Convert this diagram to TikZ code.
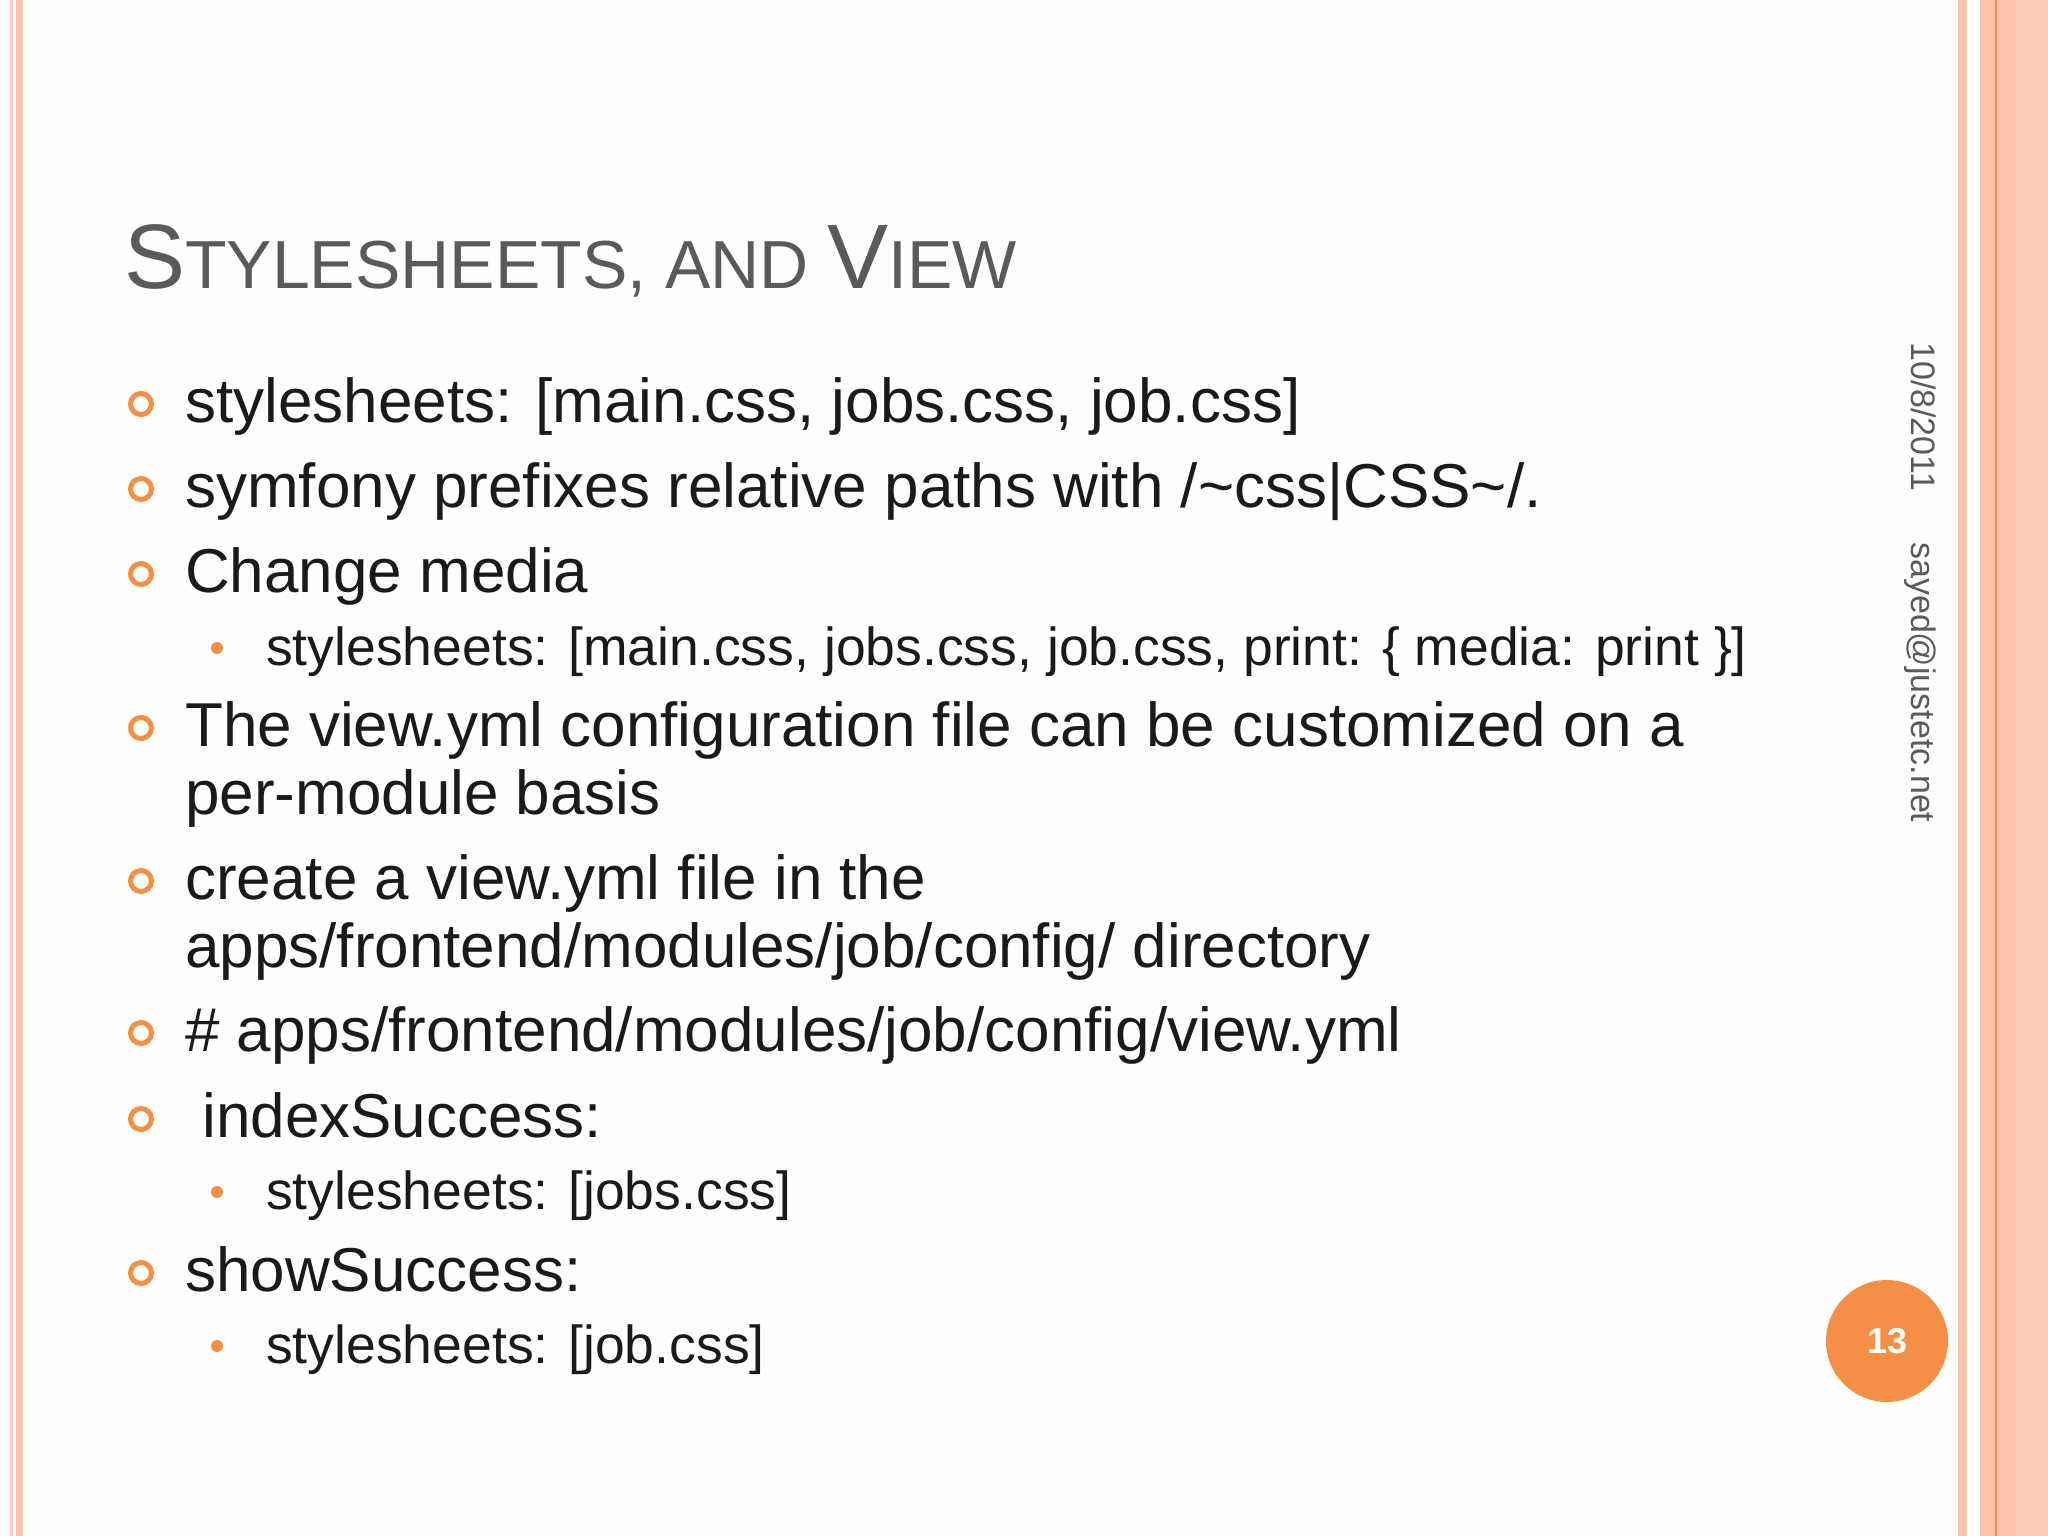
\documentclass[tikz,border=0pt]{standalone}
\usepackage{fontspec}
\setmainfont{Liberation Sans}
\definecolor{org}{HTML}{F58F45}
\definecolor{pk}{HTML}{FFC2AD}
\definecolor{pk2}{HTML}{FBCBB4}
\definecolor{txt}{HTML}{1A1A1A}
\definecolor{ttl}{HTML}{5A5A5A}
\begin{document}
\begin{tikzpicture}[x=1pt,y=-1pt,
  body/.style={anchor=base west,inner sep=0,text=txt,font=\fontsize{62}{68}\selectfont,align=left},
  sub/.style={anchor=base west,inner sep=0,text=txt,font=\fontsize{53.5}{60}\selectfont},
  ring/.style={draw=org,line width=5pt,circle,minimum size=21pt,inner sep=0},
  dot/.style={fill=org,circle,minimum size=12pt,inner sep=0}]
\useasboundingbox (0,0) rectangle (2048,1536);
\fill[white!97!green!40!white] (0,0) rectangle (2048,1536);
\fill[pk!80] (10,0) rectangle (13,1536);
\fill[pk] (16,0) rectangle (23,1536);
\fill[pk] (1958,0) rectangle (1967,1536);
\fill[white] (1967,0) rectangle (1980,1536);
\fill[pk] (1980,0) rectangle (2016,1536);
\fill[pk2] (2016,0) rectangle (2048,1536);
\draw[org,line width=2pt] (1996,0) -- (1996,1536);
\node[anchor=base west,inner sep=0,text=ttl] (title) at (124,288)
 {\fontsize{91.5}{90}\selectfont S\fontsize{68}{68}\selectfont TYLESHEETS, AND \fontsize{91.5}{90}\selectfont V\fontsize{68}{68}\selectfont IEW};
\foreach \n/\y in {1/422,2/507,3/592,4/746,5/899,6/1051,7/1137,8/1291}
  \node[ring] (r\n) at (141,\y-18) {};
\foreach \n/\y in {1/665,2/1209,3/1363}
  \node[dot] (d\n) at (217,\y-17) {};
\node[body] (b1) at (185,422) {stylesheets: [main.css, jobs.css, job.css]};
\node[body] (b2) at (185,507) {symfony prefixes relative paths with /\textasciitilde css|CSS\textasciitilde/.};
\node[body] (b3) at (185,592) {Change media};
\node[sub] (s1) at (266,665) {stylesheets: [main.css, jobs.css, job.css, print: \{ media: print \}]};
\node[body] (b4) at (185,746) {The view.yml configuration file can be customized on a};
\node[body] (b4b) at (185,814) {per-module basis};
\node[body] (b5) at (185,899) {create a view.yml file in the};
\node[body] (b5b) at (185,967) {apps/frontend/modules/job/config/ directory};
\node[body] (b6) at (185,1051) {\# apps/frontend/modules/job/config/view.yml};
\node[body] (b7) at (185,1137) {\ indexSuccess:};
\node[sub] (s2) at (266,1209) {stylesheets: [jobs.css]};
\node[body] (b8) at (185,1291) {showSuccess:};
\node[sub] (s3) at (266,1363) {stylesheets: [job.css]};
\node[fill=org,circle,minimum size=122pt,inner sep=0,text=white,font=\bfseries\fontsize{36}{36}\selectfont] (num) at (1887,1341) {13};
\node[rotate=-90,anchor=north west,inner sep=0,text=ttl,font=\fontsize{34}{34}\selectfont] (date) at (1936,342) {10/8/2011};
\node[rotate=-90,anchor=north west,inner sep=0,text=ttl,font=\fontsize{34}{34}\selectfont] (mail) at (1936,542) {sayed@justetc.net};
\end{tikzpicture}
\end{document}
